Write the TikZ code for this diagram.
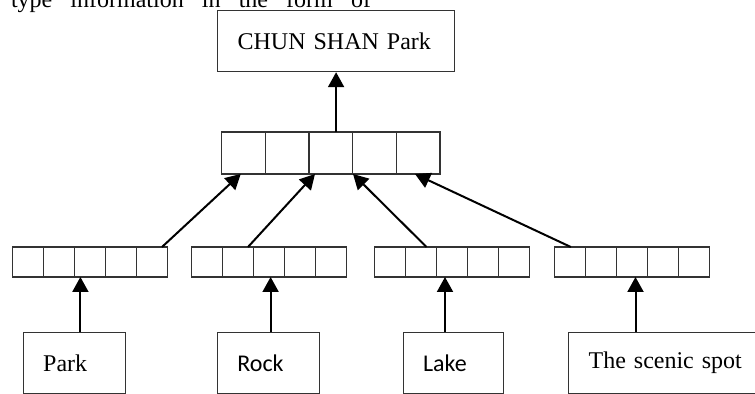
\documentclass[12pt,tikz,border=0pt]{standalone}
\usepackage{fontspec}
\setmainfont{Liberation Serif}
\newfontfamily\calibrifont{Carlito}
\usetikzlibrary{arrows.meta, positioning}

\begin{document}
\begin{tikzpicture}[
      wordbox/.style={draw=black!80, line width=0.6pt, text width=#1, align=left, inner xsep=10pt, minimum height=30.5pt, anchor=north west},
      vecbox/.style={draw=black!80, line width=0.6pt, minimum height=15pt, minimum width=77.5pt, anchor=north west, inner sep=0pt, outer sep=0pt},
      divider/.style={draw=black!80, line width=0.6pt},
      arrow/.style={-{Triangle[length=7.5pt, width=8pt]}, line width=1pt, draw=black}
    ]

      \useasboundingbox (0,0) rectangle (377.5pt,-197pt);

      % last line of the running text, cut off by the page
      \node[anchor=base west, inner sep=0pt] (text_line) at (5.3pt,-3.7pt) {\makebox[180pt][s]{type information in the form of}};

      % entity at the top
      \node[wordbox=98.5pt] (entity) at (108.5pt,-5pt) {CHUN SHAN Park};

      % combined vector (5 cells)
      \def\midcell{21.85pt}
      \node[vecbox, minimum width=109.25pt, minimum height=21pt] (mid_vec) at (110.75pt,-66pt) {};
      \foreach \i in {1,2,3,4} {
        \draw[divider] ([xshift=\i*\midcell]mid_vec.north west) -- ([xshift=\i*\midcell]mid_vec.south west);
      }

      % word vectors - using relative positioning
      \def\cellw{15.5pt}
      \node[vecbox] (vec_park) at (6.25pt,-123.5pt) {};
      \node[vecbox, right=12.05pt of vec_park] (vec_rock) {};
      \node[vecbox, right=14pt of vec_rock] (vec_lake) {};
      \node[vecbox, right=12.5pt of vec_lake] (vec_spot) {};
      \foreach \v in {park,rock,lake,spot} {
        \foreach \i in {1,2,3,4} {
          \draw[divider] ([xshift=\i*\cellw]vec_\v.north west) -- ([xshift=\i*\cellw]vec_\v.south west);
        }
      }

      % input words
      \node[wordbox=31pt] (w_park) at (11.3pt,-166pt) {Park};
      \node[wordbox=31pt, font=\calibrifont] (w_rock) at (108.35pt,-166pt) {Rock};
      \node[wordbox=30pt, font=\calibrifont] (w_lake) at (201.25pt,-166pt) {Lake};
      \node[wordbox=80pt] (w_spot) at (284pt,-166pt) {The scenic spot};

      % Arrows
      \draw[arrow] (mid_vec.north -| entity.south) -- (entity.south);

      % words up to their vectors
      \foreach \w/\dx in {park/28.9pt, rock/26.95pt, lake/21.25pt, spot/33.75pt} {
        \coordinate (in_\w) at ([xshift=\dx]w_\w.north west);
        \draw[arrow] (in_\w) -- (in_\w |- vec_\w.south);
      }

      % word vectors into the combined vector
      \foreach \v/\from/\to in {park/74.75pt/9.6pt, rock/28.2pt/46.75pt, lake/25.95pt/65.75pt, spot/8.1pt/96.75pt} {
        \draw[arrow] ([xshift=\from]vec_\v.north west) -- ([xshift=\to]mid_vec.south west);
      }

    \end{tikzpicture}
\end{document}
